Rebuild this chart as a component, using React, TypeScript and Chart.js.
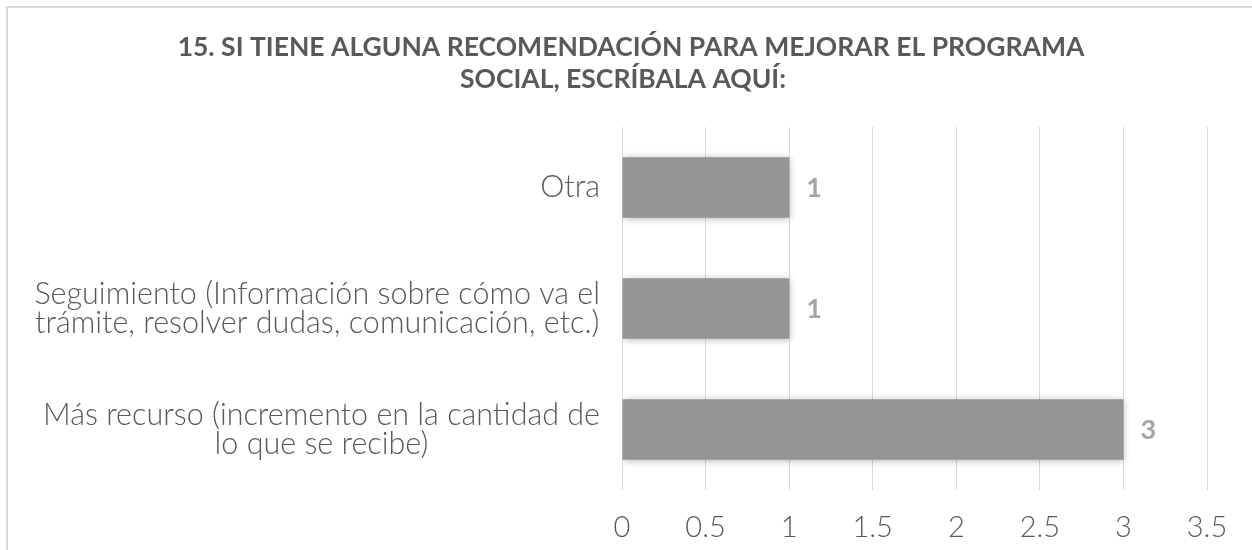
import React, { useEffect, useRef } from "react";
import { Chart, registerables } from "chart.js";

Chart.register(...registerables);

const titleLines = [
  "15. SI TIENE ALGUNA RECOMENDACIÓN PARA MEJORAR EL PROGRAMA",
  "SOCIAL, ESCRÍBALA AQUÍ:",
];
const categories: string[][] = [
  ["Otra"],
  ["Seguimiento (Información sobre cómo va el", "trámite, resolver dudas, comunicación, etc.)"],
  ["Más recurso (incremento en la cantidad de", "lo que se recibe)"],
];
const values = [1, 1, 3];
const xTicks = [0, 0.5, 1, 1.5, 2, 2.5, 3, 3.5];

const FONT = "Lato";
const TEXT = "#595959";

const decorPlugin = {
  id: "decor",
  beforeDraw(chart: any) {
    const ctx = chart.ctx;
    ctx.save();
    ctx.strokeStyle = "#d9d9d9";
    ctx.lineWidth = 2;
    ctx.strokeRect(7, 7, 1400, 700);
    // title
    ctx.fillStyle = TEXT;
    ctx.font = `bold 26.5px ${FONT}`;
    ctx.textAlign = "center";
    ctx.textBaseline = "middle";
    ctx.fillText(titleLines[0], 631, 47);
    ctx.fillText(titleLines[1], 623, 79);
    ctx.restore();
  },
  beforeDatasetsDraw(chart: any) {
    const ctx = chart.ctx;
    ctx.save();
    ctx.shadowColor = "rgba(0,0,0,0.28)";
    ctx.shadowBlur = 7;
    ctx.shadowOffsetX = 1;
    ctx.shadowOffsetY = 1;
  },
  afterDatasetsDraw(chart: any) {
    chart.ctx.restore();
  },
  afterDraw(chart: any) {
    const ctx = chart.ctx;
    const yScale = chart.scales.y;
    ctx.save();
    // category labels: block right-aligned, lines centered inside block
    ctx.font = `300 30.5px ${FONT}`;
    ctx.fillStyle = TEXT;
    ctx.textBaseline = "middle";
    ctx.textAlign = "center";
    const rightX = 600;
    const lh = 28.5;
    categories.forEach((lines, i) => {
      const cy = yScale.getPixelForValue(i);
      const w = Math.max(...lines.map((l) => ctx.measureText(l).width));
      const cx = rightX - w / 2;
      const y0 = cy - ((lines.length - 1) * lh) / 2;
      lines.forEach((l, j) => ctx.fillText(l, cx, y0 + j * lh));
    });
    // data labels
    ctx.font = `bold 27px ${FONT}`;
    ctx.fillStyle = "#a5a5a5";
    ctx.textAlign = "left";
    const meta = chart.getDatasetMeta(0);
    meta.data.forEach((bar: any, i: number) => {
      ctx.fillText(String(values[i]), bar.x + 17, bar.y + 1);
    });
    ctx.restore();
  },
};

export default function App() {
  const ref = useRef<HTMLCanvasElement>(null);
  useEffect(() => {
    const chart = new Chart(ref.current!, {
      type: "bar",
      data: {
        labels: categories.map((c) => c.join(" ")),
        datasets: [
          {
            data: values,
            backgroundColor: "#959595",
            borderWidth: 0,
            barPercentage: 1,
            categoryPercentage: 0.5,
          },
        ],
      },
      options: {
        indexAxis: "y",
        animation: false,
        responsive: false,
        layout: { padding: { left: 0, right: 45, top: 127, bottom: 0 } },
        plugins: {
          legend: { display: false },
          tooltip: { enabled: false },
          title: { display: false },
        },
        scales: {
          x: {
            min: 0,
            max: 3.5,
            afterBuildTicks(scale: any) {
              scale.ticks = xTicks.map((v) => ({ value: v }));
            },
            afterFit(scale: any) {
              scale.height = 60;
            },
            grid: { color: "#d9d9d9", lineWidth: 1, drawTicks: false },
            border: { display: false },
            ticks: {
              color: TEXT,
              padding: 20,
              font: { family: FONT, size: 29, weight: "300" },
              callback: (v: any) => String(v),
            },
          },
          y: {
            grid: { display: false },
            border: { display: false },
            ticks: { display: false },
            afterFit(scale: any) {
              scale.width = 622;
            },
          },
        },
      },
      plugins: [decorPlugin],
    });
    return () => chart.destroy();
  }, []);
  return (
    <div style={{ position: "fixed", left: 0, top: 0, width: 1252, height: 550, background: "#fff" }}>
      <canvas ref={ref} width={1252} height={550} style={{ width: 1252, height: 550 }} />
    </div>
  );
}
